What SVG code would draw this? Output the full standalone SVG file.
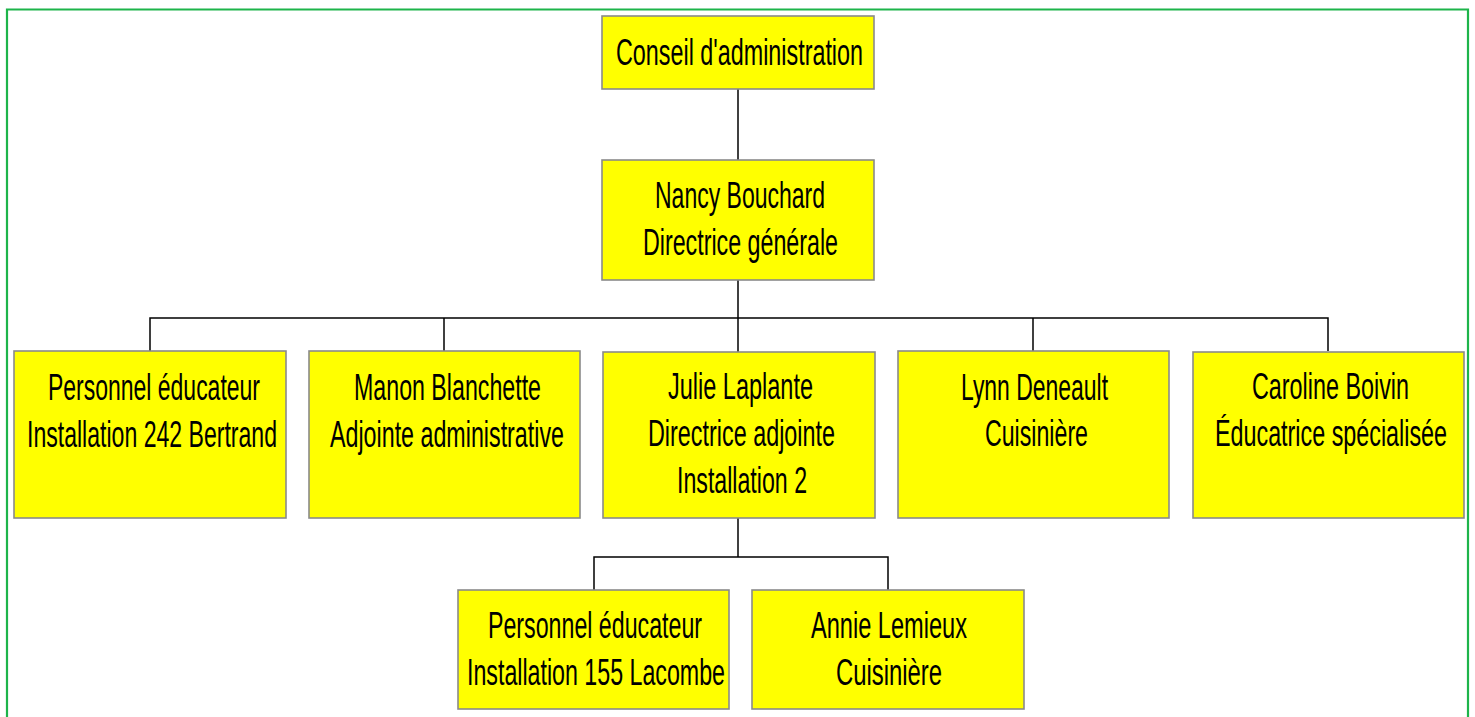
<svg xmlns="http://www.w3.org/2000/svg" width="1475" height="717" viewBox="0 0 1475 717">
<style>
.box{fill:#ffff00;stroke:#8a8a8a;stroke-width:1.6}
.t{font-family:"Liberation Sans",Arial,sans-serif;font-size:36px;fill:#000}
.c{stroke:#000;stroke-width:1.5;fill:none}
</style>
<rect width="1475" height="717" fill="#fff"/>
<path d="M7,730 V9.5 H1468 V730" fill="none" stroke="#1db44a" stroke-width="2.2"/>
<g id="connectors">
<path class="c" d="M738,89 V160"/>
<path class="c" d="M738,280 V318"/>
<path class="c" d="M150,351 V318 H1328 V351"/>
<path class="c" d="M444,318 V351"/>
<path class="c" d="M738,318 V352"/>
<path class="c" d="M1033,318 V351"/>
<path class="c" d="M738,518 V557"/>
<path class="c" d="M594,590 V557 H888 V590"/>
</g>
<g id="conseil">
<rect class="box" x="602" y="16" width="272" height="73"/>
<text class="t" transform="translate(616 0) scale(0.62 1)" x="0" y="65" textLength="398.4" lengthAdjust="spacingAndGlyphs">Conseil d'administration</text>
</g>
<g id="nancy">
<rect class="box" x="602" y="160" width="272" height="120"/>
<text class="t" transform="translate(655 0) scale(0.62 1)" x="0" y="208" textLength="274.2" lengthAdjust="spacingAndGlyphs">Nancy Bouchard</text>
<text class="t" transform="translate(643 0) scale(0.62 1)" x="0" y="255" textLength="314.5" lengthAdjust="spacingAndGlyphs">Directrice générale</text>
</g>
<g id="personnel242">
<rect class="box" x="14" y="351" width="272" height="167"/>
<text class="t" transform="translate(48 0) scale(0.62 1)" x="0" y="400" textLength="341.9" lengthAdjust="spacingAndGlyphs">Personnel éducateur</text>
<text class="t" transform="translate(27 0) scale(0.62 1)" x="0" y="447" textLength="403.2" lengthAdjust="spacingAndGlyphs">Installation 242 Bertrand</text>
</g>
<g id="manon">
<rect class="box" x="309" y="351" width="271" height="167"/>
<text class="t" transform="translate(354 0) scale(0.62 1)" x="0" y="400" textLength="301.6" lengthAdjust="spacingAndGlyphs">Manon Blanchette</text>
<text class="t" transform="translate(330 0) scale(0.62 1)" x="0" y="447" textLength="377.4" lengthAdjust="spacingAndGlyphs">Adjointe administrative</text>
</g>
<g id="julie">
<rect class="box" x="603" y="352" width="272" height="166"/>
<text class="t" transform="translate(668 0) scale(0.62 1)" x="0" y="399" textLength="233.9" lengthAdjust="spacingAndGlyphs">Julie Laplante</text>
<text class="t" transform="translate(648 0) scale(0.62 1)" x="0" y="446" textLength="301.6" lengthAdjust="spacingAndGlyphs">Directrice adjointe</text>
<text class="t" transform="translate(677 0) scale(0.62 1)" x="0" y="493" textLength="209.7" lengthAdjust="spacingAndGlyphs">Installation 2</text>
</g>
<g id="lynn">
<rect class="box" x="898" y="351" width="271" height="167"/>
<text class="t" transform="translate(961 0) scale(0.62 1)" x="0" y="400" textLength="237.1" lengthAdjust="spacingAndGlyphs">Lynn Deneault</text>
<text class="t" transform="translate(985 0) scale(0.62 1)" x="0" y="446" textLength="166.1" lengthAdjust="spacingAndGlyphs">Cuisinière</text>
</g>
<g id="caroline">
<rect class="box" x="1193" y="352" width="271" height="166"/>
<text class="t" transform="translate(1252 0) scale(0.62 1)" x="0" y="399" textLength="253.2" lengthAdjust="spacingAndGlyphs">Caroline Boivin</text>
<text class="t" transform="translate(1215 0) scale(0.62 1)" x="0" y="446" textLength="374.2" lengthAdjust="spacingAndGlyphs">Éducatrice spécialisée</text>
</g>
<g id="personnel155">
<rect class="box" x="458" y="590" width="271" height="119"/>
<text class="t" transform="translate(488 0) scale(0.62 1)" x="0" y="638" textLength="345.2" lengthAdjust="spacingAndGlyphs">Personnel éducateur</text>
<text class="t" transform="translate(467 0) scale(0.62 1)" x="0" y="685" textLength="416.1" lengthAdjust="spacingAndGlyphs">Installation 155 Lacombe</text>
</g>
<g id="annie">
<rect class="box" x="752" y="590" width="272" height="119"/>
<text class="t" transform="translate(811 0) scale(0.62 1)" x="0" y="638" textLength="251.6" lengthAdjust="spacingAndGlyphs">Annie Lemieux</text>
<text class="t" transform="translate(836 0) scale(0.62 1)" x="0" y="685" textLength="171" lengthAdjust="spacingAndGlyphs">Cuisinière</text>
</g>
</svg>
